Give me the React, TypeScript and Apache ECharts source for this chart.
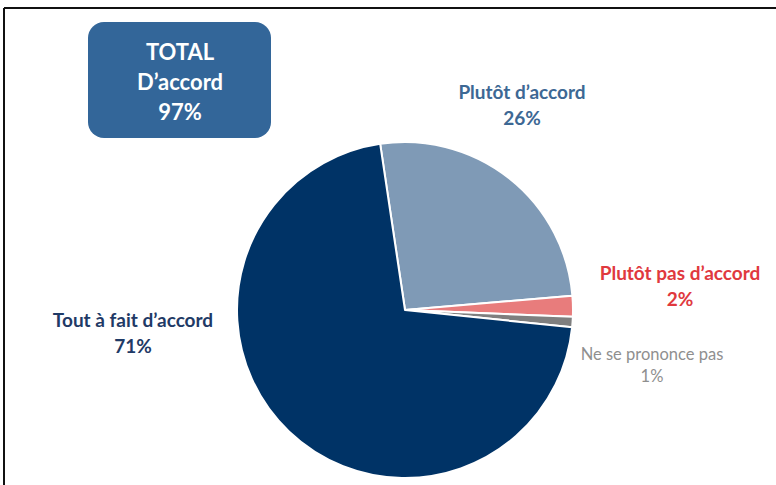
import React, { useEffect, useRef } from "react";
import * as echarts from "echarts";

const categories = ["Plutôt d’accord", "Plutôt pas d’accord", "Ne se prononce pas", "Tout à fait d’accord"];
const values = [26, 2, 1, 71];
const sliceColors = ["#7f9ab6", "#e87c7c", "#7f7f7f", "#003366"];
const labelColors = ["#3d6894", "#e0393e", "#8f8f8f", "#1f3a66"];
const labelSizes = [19, 19, 16.5, 19];
const labelWeights = ["bold", "bold", "normal", "bold"];
const labelLineHeights = [26, 26, 22, 26];
const labelPos = [
  [522, 104],
  [680, 285],
  [652, 365],
  [133, 332],
];
const totalLines = ["TOTAL", "D’accord", "97%"];

export default function App() {
  const ref = useRef<HTMLDivElement>(null);
  useEffect(() => {
    const chart = echarts.init(ref.current!, null, { renderer: "svg" });
    chart.setOption({
      animation: false,
      backgroundColor: "#ffffff",
      textStyle: { fontFamily: "Lato" },
      graphic: [
        { type: "line", shape: { x1: 4, y1: 8, x2: 776, y2: 8 }, style: { stroke: "#111", lineWidth: 2 } },
        { type: "line", shape: { x1: 4, y1: 8, x2: 4, y2: 485 }, style: { stroke: "#111", lineWidth: 2 } },
        {
          type: "rect",
          shape: { x: 88, y: 22, width: 183, height: 116, r: 16 },
          style: { fill: "#336699" },
        },
        {
          type: "text",
          x: 180,
          y: 81,
          style: {
            text: totalLines.join("\n"),
            fill: "#ffffff",
            font: "bold 22px Lato",
            align: "center",
            verticalAlign: "middle",
            lineHeight: 30,
          },
        },
      ],
      series: [
        {
          type: "pie",
          center: [405, 310],
          radius: 168,
          startAngle: 98.5,
          clockwise: true,
          itemStyle: { borderColor: "#ffffff", borderWidth: 2 },
          labelLine: { show: false },
          data: categories.map((name, i) => ({
            name,
            value: values[i],
            itemStyle: { color: sliceColors[i] },
            label: {
              show: true,
              position: "outside",
              formatter: "{b}\n{c}%",
              color: labelColors[i],
              fontSize: labelSizes[i],
              fontWeight: labelWeights[i],
              fontFamily: "Lato",
              lineHeight: labelLineHeights[i],
              align: "center",
              overflow: "none",
              width: 220,
            },
          })),
          labelLayout: (params: any) => ({
            x: labelPos[params.dataIndex][0],
            y: labelPos[params.dataIndex][1],
            align: "center",
            verticalAlign: "middle",
          }),
        },
      ],
    });
    return () => chart.dispose();
  }, []);
  return <div ref={ref} style={{ position: "absolute", left: 0, top: 0, width: 776, height: 485 }} />;
}
